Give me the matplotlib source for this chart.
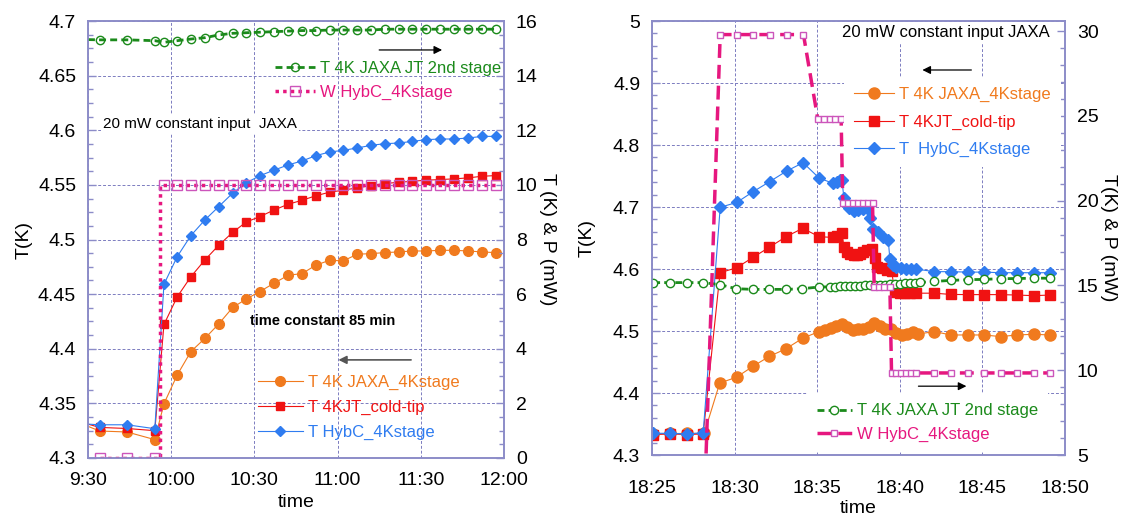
import numpy as np
import matplotlib.pyplot as plt
from matplotlib.ticker import AutoMinorLocator

plt.rcParams['font.family'] = ['Liberation Sans', 'DejaVu Sans']

# --- colours ---
ORANGE = '#f07a1e'
RED = '#f01212'
BLUE = '#2f7cf0'
GREEN = '#1b8a1b'
PINK = '#e6177f'
PINK_MK = '#cc55bb'
SPINE = '#8c8cc8'
GRID = '#7c7cc0'

# ---------------- left panel: minutes after 9:30 ----------------
t_left = [4.2, 14.1, 24.1, 27.4, 32.2, 37.1, 42.2, 47.1, 52.2, 57.0, 62.0, 67.1, 72.2,
          77.2, 82.1, 87.1, 92.0, 97.1, 102.1, 107.0, 112.0, 116.9, 122.0, 127.0,
          132.0, 137.1, 142.1, 147.0]
jaxa_4k_left = [4.3247, 4.3238, 4.3168, 4.3497, 4.3761, 4.3974, 4.4096, 4.4226, 4.4378,
                4.4454, 4.4524, 4.4600, 4.4673, 4.4688, 4.4764, 4.4810, 4.4804, 4.4865,
                4.4871, 4.4880, 4.4886, 4.4895, 4.4895, 4.4901, 4.4901, 4.4895, 4.4886,
                4.4880]
coldtip_left = [4.328, 4.327, 4.325, 4.4222, 4.4476, 4.4659, 4.4814, 4.4946, 4.5066,
                4.5159, 4.5210, 4.5270, 4.5323, 4.5359, 4.5400, 4.5433, 4.5451, 4.5473,
                4.5494, 4.5512, 4.5524, 4.5533, 4.5543, 4.5549, 4.5555, 4.5564, 4.5579,
                4.5585]
hybc_left = [4.3304, 4.3304, 4.3268, 4.4590, 4.4844, 4.5036, 4.5180, 4.5300, 4.5425,
             4.5518, 4.5584, 4.5635, 4.5683, 4.5719, 4.5767, 4.5801, 4.5816, 4.5838,
             4.5862, 4.5877, 4.5883, 4.5898, 4.5914, 4.5920, 4.5920, 4.5929, 4.5944,
             4.5944]
jt2nd_left = [15.31, 15.31, 15.28, 15.22, 15.28, 15.34, 15.39, 15.49, 15.55, 15.57,
              15.59, 15.61, 15.63, 15.65, 15.65, 15.67, 15.67, 15.67, 15.67, 15.70,
              15.70, 15.70, 15.70, 15.70, 15.70, 15.70, 15.70, 15.70]
power_left = [0, 0, 0] + [10] * 25
# values where the recorded traces meet the left edge (no marker there)
start_left = {'jaxa': 4.329, 'cold': 4.331, 'hybc': 4.331, 'jt2nd': 15.32}
heater_on_left = 25.8

# ---------------- right panel: minutes after 18:25 ----------------
t_jaxa_r = [0.07, 1.1, 2.1, 3.16, 4.1, 5.12, 6.11, 7.1, 8.1, 9.12, 10.1, 10.49, 10.82,
            11.15, 11.48, 11.81, 12.14, 12.47, 12.8, 13.13, 13.46, 13.8, 14.13, 14.46,
            14.79, 15.12, 15.46, 15.79, 16.11, 17.1, 18.1, 19.1, 20.1, 21.1, 22.1, 23.1,
            24.1]
jaxa_4k_r = [4.3336, 4.3347, 4.3347, 4.3347, 4.416, 4.4255, 4.443, 4.459, 4.4712, 4.4883,
             4.499, 4.5016, 4.5043, 4.508, 4.5112, 4.5059, 4.5016, 4.5027, 4.5037, 4.5059,
             4.5123, 4.508, 4.5027, 4.5027, 4.4973, 4.4936, 4.4952, 4.4989, 4.4952, 4.499,
             4.4936, 4.4936, 4.4936, 4.491, 4.4936, 4.4947, 4.4936]
t_hybc_r = [0.07, 1.1, 2.1, 3.1, 4.13, 5.14, 6.14, 7.13, 8.15, 9.15, 10.13, 10.98, 11.2,
            11.37, 11.5, 11.62, 11.9, 12.2, 12.5, 12.8, 13.0, 13.2, 13.4, 13.7, 14.0,
            14.3, 14.4, 14.6, 14.8, 15.1, 15.4, 15.7, 16.0, 17.07, 18.1, 19.1, 20.1,
            21.1, 22.1, 23.1, 24.1]
hybc_r = [4.335, 4.335, 4.334, 4.336, 4.6995, 4.7075, 4.725, 4.741, 4.758, 4.7715,
          4.7463, 4.7382, 4.741, 4.743, 4.743, 4.714, 4.698, 4.694, 4.695, 4.697, 4.699,
          4.682, 4.664, 4.659, 4.652, 4.647, 4.616, 4.607, 4.603, 4.601, 4.600, 4.600,
          4.600, 4.5957, 4.5957, 4.595, 4.595, 4.594, 4.594, 4.594, 4.594]
t_cold_r = [0.07, 1.1, 2.1, 3.1, 4.12, 5.12, 6.13, 7.1, 8.11, 9.12, 10.13, 10.98, 11.2,
            11.5, 11.62, 11.8, 12.0, 12.2, 12.4, 12.6, 12.8, 13.0, 13.3, 13.5, 13.6,
            13.9, 14.2, 14.5, 14.7, 15.0, 15.3, 15.6, 16.0, 17.07, 18.1, 19.1, 20.1,
            21.1, 22.1, 23.1, 24.1]
coldtip_r = [4.333, 4.334, 4.333, 4.334, 4.594, 4.602, 4.619, 4.635, 4.652, 4.6656,
             4.652, 4.651, 4.653, 4.658, 4.636, 4.627, 4.624, 4.6226, 4.623, 4.625, 4.628,
             4.6306, 4.633, 4.617, 4.604, 4.601, 4.598, 4.597, 4.5634, 4.561, 4.561,
             4.561, 4.561, 4.561, 4.559, 4.5587, 4.5587, 4.5587, 4.558, 4.557, 4.558]
t_jt_r = [0.07, 1.1, 2.1, 3.1, 4.1, 5.1, 6.1, 7.1, 8.1, 9.1, 10.1, 10.8, 11.1, 11.4,
          11.7, 12.0, 12.3, 12.6, 12.9, 13.2, 13.5, 13.8, 14.1, 14.4, 14.7, 15.0, 15.3,
          15.6, 15.9, 16.2, 17.1, 18.1, 19.1, 20.1, 21.1, 22.1, 23.1, 24.1]
jt2nd_r = [15.17, 15.17, 15.17, 15.17, 15.05, 14.81, 14.77, 14.77, 14.77, 14.81, 14.91,
           14.92, 14.93, 14.94, 14.95, 14.96, 14.97, 14.98, 15.00, 15.01, 15.02, 15.03,
           15.04, 15.06, 15.08, 15.10, 15.12, 15.14, 15.16, 15.18, 15.24, 15.30, 15.34,
           15.36, 15.40, 15.41, 15.43, 15.43]
t_pow_r = [0.07, 1.1, 2.1, 3.1, 4.13, 5.14, 6.14, 7.13, 8.17, 9.17, 10.04, 10.4, 10.75,
           11.1, 11.45, 11.55, 11.85, 12.15, 12.45, 12.75, 13.05, 13.35, 13.45, 13.75,
           14.05, 14.4, 14.5, 14.8, 15.1, 15.4, 15.7, 16.0, 17.1, 18.1, 19.1, 20.1, 21.1,
           22.1, 23.1, 24.1]
power_r = [0] * 4 + [29.8] * 6 + [24.8] * 5 + [19.85] * 7 + [14.93] * 4 + [9.84] * 14

left_xticks = [0, 30, 60, 90, 120, 150]
left_xlabels = ['9:30', '10:00', '10:30', '11:00', '11:30', '12:00']
left_yticks = [4.3, 4.35, 4.4, 4.45, 4.5, 4.55, 4.6, 4.65, 4.7]
left_ylabels = ['4.3', '4.35', '4.4', '4.45', '4.5', '4.55', '4.6', '4.65', '4.7']
left_y2ticks = [0, 2, 4, 6, 8, 10, 12, 14, 16]
right_xticks = [0, 5, 10, 15, 20, 25]
right_xlabels = ['18:25', '18:30', '18:35', '18:40', '18:45', '18:50']
right_yticks = [4.3, 4.4, 4.5, 4.6, 4.7, 4.8, 4.9, 5.0]
right_ylabels = ['4.3', '4.4', '4.5', '4.6', '4.7', '4.8', '4.9', '5']
right_y2ticks = [5, 10, 15, 20, 25, 30]

TICK_FS = 14
LEG_FS = 12

fig = plt.figure(figsize=(11.41, 5.15), dpi=100)
axL = fig.add_axes([0.0771, 0.1107, 0.3646, 0.8485])
axL2 = axL.twinx()
axR = fig.add_axes([0.5714, 0.1165, 0.3620, 0.8427])
axR2 = axR.twinx()


def style_axes(ax, ax2, xticks, xlabels, yticks, ylabels, y2ticks, nminor, xpad):
    for a in (ax, ax2):
        for s in a.spines.values():
            s.set_color(SPINE)
            s.set_linewidth(1.2)
        a.tick_params(axis='y', which='major', direction='in', length=6, width=1,
                      color=SPINE, labelsize=TICK_FS, pad=8.5)
        a.tick_params(axis='y', which='minor', direction='in', length=3.5, width=1,
                      color=SPINE)
        a.tick_params(axis='x', length=0, labelsize=TICK_FS, pad=xpad)
    ax.set_xticks(xticks)
    ax.set_xticklabels(xlabels)
    ax.set_yticks(yticks)
    ax.set_yticklabels(ylabels)
    ax2.set_yticks(y2ticks)
    ax.yaxis.set_minor_locator(AutoMinorLocator(nminor))
    ax2.yaxis.set_minor_locator(AutoMinorLocator(nminor))
    ax.grid(True, color=GRID, linestyle=(0, (3, 2)), linewidth=0.7)
    ax.set_axisbelow(True)
    ax2.patch.set_visible(False)


# ---------------- left panel ----------------
axL.set_xlim(0, 150)
axL.set_ylim(4.3, 4.7)
axL2.set_ylim(0, 16)
style_axes(axL, axL2, left_xticks, left_xlabels, left_yticks, left_ylabels,
           left_y2ticks, 4, 10)

every = slice(1, None)
l_or, = axL.plot([0] + t_left, [start_left['jaxa']] + jaxa_4k_left, '-', color=ORANGE,
                 lw=0.8, marker='o', ms=7, markevery=every, label='T 4K JAXA_4Kstage')
l_rd, = axL.plot([0] + t_left, [start_left['cold']] + coldtip_left, '-', color=RED,
                 lw=0.8, marker='s', ms=6, markevery=every, label='T 4KJT_cold-tip')
l_bl, = axL.plot([0] + t_left, [start_left['hybc']] + hybc_left, '-', color=BLUE,
                 lw=0.8, marker='D', ms=5.5, markevery=every, label='T HybC_4Kstage')

l_gr, = axL2.plot([0] + t_left, [start_left['jt2nd']] + jt2nd_left,
                  linestyle=(0, (2.5, 1.5)), color=GREEN, lw=2, marker='o', ms=6,
                  mfc='none', mec=GREEN, mew=1, markevery=every,
                  label='T 4K JAXA JT 2nd stage')
pt = t_left[:3] + [heater_on_left, heater_on_left] + t_left[3:]
pv = power_left[:3] + [power_left[2], power_left[3]] + power_left[3:]
l_pk, = axL2.plot(pt, pv, linestyle=(0, (1, 1.2)), color=PINK, lw=2.5, marker='s',
                  ms=6.5, mfc='none', mec=PINK_MK, mew=1,
                  markevery=[0, 1, 2] + list(range(5, len(pt))),
                  label='W HybC_4Kstage')

axL.set_xlabel('time', fontsize=TICK_FS, labelpad=3.5)
axL.set_ylabel('T(K)', fontsize=TICK_FS, labelpad=4)
axL2.set_ylabel('T (K) & P (mW)', fontsize=TICK_FS, rotation=270, labelpad=13)

leg1 = axL2.legend(handles=[l_gr, l_pk], loc='upper right', bbox_to_anchor=(1.0, 0.916),
                   frameon=False, fontsize=LEG_FS, handlelength=2.4, handletextpad=0.3,
                   labelspacing=0.53, borderpad=0.2, borderaxespad=0)
for txt, c in zip(leg1.get_texts(), [GREEN, PINK]):
    txt.set_color(c)
leg2 = axL2.legend(handles=[l_or, l_rd, l_bl], loc='upper left',
                   bbox_to_anchor=(0.40, 0.198), frameon=False, fontsize=LEG_FS,
                   handlelength=2.7, handletextpad=0.3, labelspacing=0.59,
                   borderpad=0.2, borderaxespad=0)
for txt, c in zip(leg2.get_texts(), [ORANGE, RED, BLUE]):
    txt.set_color(c)
axL2.add_artist(leg1)

axL.text(5.4, 4.6057, '20 mW constant input  JAXA', fontsize=11, va='center',
         ha='left', bbox=dict(facecolor='white', edgecolor='none', pad=1.5), zorder=3)
axL.text(58.4, 4.425, 'time constant 85 min', fontsize=10.5, fontweight='bold',
         va='center', ha='left')
axL.annotate('', xy=(128.7, 4.6735), xytext=(104.0, 4.6735),
             arrowprops=dict(arrowstyle='-|>', color='black', lw=0.9, mutation_scale=12))
axL.annotate('', xy=(89.3, 4.3898), xytext=(117.5, 4.3898),
             arrowprops=dict(arrowstyle='-|>', color='#555555', lw=1.2, mutation_scale=12))

# ---------------- right panel ----------------
axR.set_xlim(0, 25)
axR.set_ylim(4.3, 5.0)
axR2.set_ylim(5, 30.6)
style_axes(axR, axR2, right_xticks, right_xlabels, right_yticks, right_ylabels,
           right_y2ticks, 5, 18)

r_or, = axR.plot(t_jaxa_r, jaxa_4k_r, '-', color=ORANGE, lw=0.8, marker='o', ms=8,
                 label='T 4K JAXA_4Kstage')
r_rd, = axR.plot(t_cold_r, coldtip_r, '-', color=RED, lw=0.8, marker='s', ms=6.5,
                 label='T 4KJT_cold-tip')
r_bl, = axR.plot(t_hybc_r, hybc_r, '-', color=BLUE, lw=0.8, marker='D', ms=6,
                 label='T  HybC_4Kstage')
r_gr, = axR2.plot(t_jt_r, jt2nd_r, linestyle=(0, (2.5, 1.5)), color=GREEN, lw=2,
                  marker='o', ms=6, mfc='white', mec=GREEN, mew=1,
                  label='T 4K JAXA JT 2nd stage')
r_pk, = axR2.plot(t_pow_r, power_r, linestyle=(0, (4, 2)), color=PINK, lw=2.5,
                  marker='s', ms=4, mfc='white', mec=PINK_MK, mew=1,
                  label='W HybC_4Kstage')

axR.set_xlabel('time', fontsize=TICK_FS, labelpad=2)
axR.set_ylabel('T(K)', fontsize=TICK_FS, labelpad=12)
axR2.set_ylabel('T(K) & P (mW)', fontsize=TICK_FS, rotation=270, labelpad=13)

leg3 = axR2.legend(handles=[r_or, r_rd, r_bl], loc='upper left',
                   bbox_to_anchor=(0.465, 0.871), frameon=True, fancybox=False,
                   facecolor='white', edgecolor='none', framealpha=1, fontsize=LEG_FS,
                   handlelength=2.4, handletextpad=0.3, labelspacing=0.75,
                   borderpad=0.6, borderaxespad=0)
for txt, c in zip(leg3.get_texts(), [ORANGE, RED, BLUE]):
    txt.set_color(c)
leg4 = axR2.legend(handles=[r_gr, r_pk], loc='upper left', bbox_to_anchor=(0.375, 0.142),
                   frameon=True, fancybox=False, facecolor='white', edgecolor='none',
                   framealpha=1, fontsize=LEG_FS, handlelength=2.1, handletextpad=0.3,
                   labelspacing=0.48, borderpad=0.6, borderaxespad=0)
for txt, c in zip(leg4.get_texts(), [GREEN, PINK]):
    txt.set_color(c)
axR2.add_artist(leg3)

axR.text(24.1, 4.981, '20 mW constant input JAXA', fontsize=LEG_FS, va='center',
         ha='right', bbox=dict(facecolor='white', edgecolor='none', pad=2), zorder=3)
axR.annotate('', xy=(16.2, 4.921), xytext=(19.5, 4.921),
             arrowprops=dict(arrowstyle='-|>', color='black', lw=0.9, mutation_scale=12))
axR.annotate('', xy=(19.2, 4.411), xytext=(15.96, 4.411),
             arrowprops=dict(arrowstyle='-|>', color='black', lw=0.9, mutation_scale=12))

fig.savefig('out.png', dpi=100)
